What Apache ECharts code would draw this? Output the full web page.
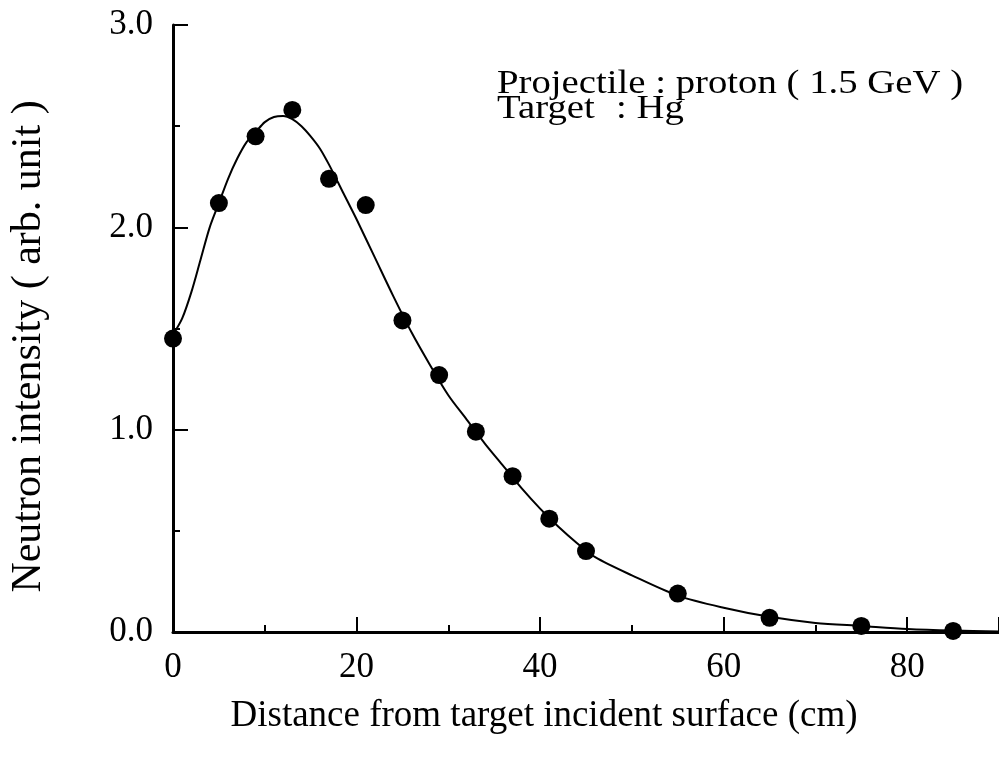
<!DOCTYPE html>
<html>
<head>
<meta charset="utf-8">
<script src="https://cdn.jsdelivr.net/npm/echarts@6/dist/echarts.min.js"></script>
<style>
    html, body { margin: 0; padding: 0; background: #fff; }
    #chart { width: 999px; height: 759px; }
</style>
</head>
<body>
<div id="chart"></div>
<script>
// measured points
let pointX = [0, 5, 9, 13, 17, 21, 25, 29, 33, 37, 41, 45, 55, 65, 75, 85];
let pointY = [1.45, 2.12, 2.45, 2.58, 2.24, 2.11, 1.54, 1.27, 0.99, 0.77, 0.56, 0.40, 0.19, 0.07, 0.03, 0.005];

// fitted curve
let curveX = [0, 1, 2, 3, 4, 5, 6, 7, 8, 9, 10, 11, 12, 13, 14, 15, 16, 17, 18, 19, 20,
    22, 24, 26, 28, 30, 32, 34, 36, 38, 40, 42, 44, 46, 50, 55, 60, 65, 70, 75, 80, 85, 90];
let curveY = [1.47, 1.55, 1.68, 1.84, 2.00, 2.12, 2.24, 2.34, 2.42, 2.47, 2.52, 2.545, 2.55, 2.535, 2.50, 2.45, 2.39, 2.31, 2.22, 2.13, 2.04,
    1.85, 1.66, 1.48, 1.32, 1.17, 1.05, 0.93, 0.82, 0.71, 0.61, 0.52, 0.44, 0.37, 0.28, 0.18, 0.12, 0.075, 0.045, 0.03, 0.015, 0.007, 0.003];

let annotation = ['Projectile : proton ( 1.5 GeV )', 'Target', ': Hg'];

let font = '"Liberation Serif", "DejaVu Serif", serif';

let chart = echarts.init(document.getElementById('chart'));
chart.setOption({
    animation: false,
    backgroundColor: '#fff',
    grid: {
        left: 173,
        right: 0,
        top: 25,
        bottom: 127,
        outerBoundsMode: 'none'
    },
    xAxis: {
        type: 'value',
        min: 0,
        max: 90,
        interval: 20,
        name: 'Distance from target incident surface (cm)',
        nameLocation: 'middle',
        nameGap: 66,
        nameTextStyle: {
            fontFamily: font,
            fontSize: 37,
            color: '#000',
            padding: [0, 84, 0, 0]
        },
        axisLine: { lineStyle: { color: '#000', width: 3 } },
        axisTick: { inside: true, length: 15, lineStyle: { color: '#000', width: 2 } },
        minorTick: { show: true, splitNumber: 2, length: 7, lineStyle: { color: '#000', width: 2 } },
        axisLabel: {
            showMaxLabel: false,
            margin: 18,
            fontFamily: font,
            fontSize: 35,
            color: '#000'
        },
        splitLine: { show: false }
    },
    yAxis: {
        type: 'value',
        min: 0,
        max: 3,
        interval: 1,
        name: 'Neutron intensity ( arb. unit )',
        nameLocation: 'middle',
        nameGap: 123,
        nameTextStyle: {
            fontFamily: font,
            fontSize: 42,
            color: '#000',
            padding: [0, 36, 0, 0]
        },
        axisLine: { lineStyle: { color: '#000', width: 3 } },
        axisTick: { inside: true, length: 15, lineStyle: { color: '#000', width: 2 } },
        minorTick: { show: true, splitNumber: 2, length: 7, lineStyle: { color: '#000', width: 2 } },
        axisLabel: {
            margin: 20,
            fontFamily: font,
            fontSize: 35,
            color: '#000',
            formatter: v => v.toFixed(1)
        },
        splitLine: { show: false }
    },
    graphic: [
        {
            type: 'text', left: 497, top: 67, scaleX: 1.14,
            style: { text: annotation[0], font: '34px ' + font, fill: '#000' }
        },
        {
            type: 'text', left: 497, top: 92, scaleX: 1.14,
            style: { text: annotation[1], font: '34px ' + font, fill: '#000' }
        },
        {
            type: 'text', left: 616, top: 92, scaleX: 1.14,
            style: { text: annotation[2], font: '34px ' + font, fill: '#000' }
        }
    ],
    series: [
        {
            type: 'line',
            data: curveX.map((x, i) => [x, curveY[i]]),
            smooth: 0.3,
            showSymbol: false,
            lineStyle: { color: '#000', width: 2 },
            z: 2
        },
        {
            type: 'scatter',
            data: pointX.map((x, i) => [x, pointY[i]]),
            symbol: 'circle',
            symbolSize: 18,
            itemStyle: { color: '#000', opacity: 1 },
            z: 3
        }
    ]
});
</script>
</body>
</html>
